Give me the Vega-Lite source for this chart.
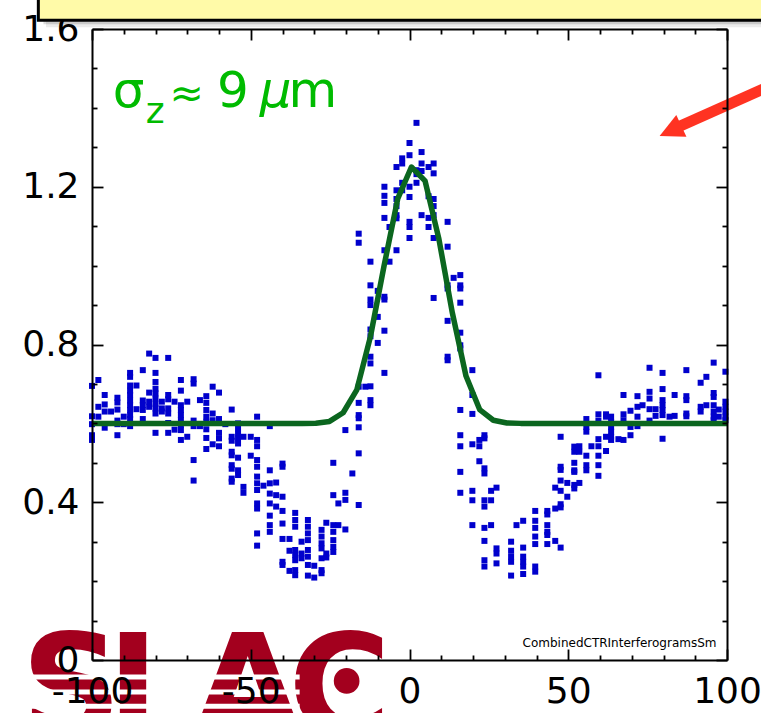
{
  "$schema": "https://vega.github.io/schema/vega-lite/v6.json",
  "width": 635,
  "height": 631,
  "autosize": "none",
  "padding": {"left": 92, "top": 29, "right": 34, "bottom": 53},
  "background": "white",
  "config": {
    "view": {"stroke": null},
    "axis": {"labelFont": "DejaVu Sans", "labelFontSize": 36, "labelColor": "black", "domainColor": "black", "domainWidth": 2, "tickColor": "black", "tickWidth": 1.8, "grid": false, "title": null, "labelOverlap": false, "labelFlush": false, "labelBound": false}
  },
  "datasets": {
    "pts": [
      {"x":-100,"y":0.695},{"x":-100,"y":0.618},{"x":-100,"y":0.598},{"x":-100,"y":0.570},{"x":-100,"y":0.558},
      {"x":-98,"y":0.710},{"x":-98,"y":0.642},{"x":-98,"y":0.617},
      {"x":-96,"y":0.672},{"x":-96,"y":0.648},{"x":-96,"y":0.630},{"x":-96,"y":0.589},
      {"x":-94,"y":0.630},
      {"x":-92,"y":0.665},{"x":-92,"y":0.653},{"x":-92,"y":0.635},{"x":-92,"y":0.607},{"x":-92,"y":0.598},{"x":-92,"y":0.570},
      {"x":-90,"y":0.617},{"x":-90,"y":0.598},
      {"x":-88,"y":0.728},{"x":-88,"y":0.718},{"x":-88,"y":0.696},{"x":-88,"y":0.683},{"x":-88,"y":0.672},{"x":-88,"y":0.658},{"x":-88,"y":0.646},{"x":-88,"y":0.634},{"x":-88,"y":0.621},{"x":-88,"y":0.611},{"x":-88,"y":0.593},
      {"x":-86,"y":0.696},{"x":-86,"y":0.636},
      {"x":-84,"y":0.735},{"x":-84,"y":0.658},{"x":-84,"y":0.646},{"x":-84,"y":0.634},{"x":-84,"y":0.611},
      {"x":-82,"y":0.777},{"x":-82,"y":0.678},{"x":-82,"y":0.655},{"x":-82,"y":0.642},
      {"x":-80,"y":0.766},{"x":-80,"y":0.728},{"x":-80,"y":0.705},{"x":-80,"y":0.688},{"x":-80,"y":0.676},{"x":-80,"y":0.663},{"x":-80,"y":0.650},{"x":-80,"y":0.638},{"x":-80,"y":0.625},{"x":-80,"y":0.576},
      {"x":-78,"y":0.655},{"x":-78,"y":0.638},{"x":-78,"y":0.630},
      {"x":-76,"y":0.766},{"x":-76,"y":0.672},{"x":-76,"y":0.661},{"x":-76,"y":0.638},{"x":-76,"y":0.625},{"x":-76,"y":0.601},{"x":-76,"y":0.576},
      {"x":-74,"y":0.655},{"x":-74,"y":0.584},
      {"x":-72,"y":0.710},{"x":-72,"y":0.683},{"x":-72,"y":0.646},{"x":-72,"y":0.634},{"x":-72,"y":0.621},{"x":-72,"y":0.608},{"x":-72,"y":0.596},{"x":-72,"y":0.583},{"x":-72,"y":0.558},
      {"x":-70,"y":0.655},{"x":-70,"y":0.566},
      {"x":-68,"y":0.712},{"x":-68,"y":0.701},{"x":-68,"y":0.607},{"x":-68,"y":0.593},{"x":-68,"y":0.507},{"x":-68,"y":0.455},
      {"x":-66,"y":0.659},{"x":-66,"y":0.593},
      {"x":-64,"y":0.669},{"x":-64,"y":0.652},{"x":-64,"y":0.634},{"x":-64,"y":0.617},{"x":-64,"y":0.604},{"x":-64,"y":0.585},{"x":-64,"y":0.563},{"x":-64,"y":0.535},
      {"x":-62,"y":0.693},{"x":-62,"y":0.625},{"x":-62,"y":0.608},{"x":-62,"y":0.547},
      {"x":-60,"y":0.678},{"x":-60,"y":0.611},{"x":-60,"y":0.576},{"x":-60,"y":0.562},{"x":-60,"y":0.542},
      {"x":-58,"y":0.598},
      {"x":-56,"y":0.635},{"x":-56,"y":0.566},{"x":-56,"y":0.556},{"x":-56,"y":0.528},{"x":-56,"y":0.519},{"x":-56,"y":0.494},{"x":-56,"y":0.485},{"x":-56,"y":0.460},{"x":-56,"y":0.452},
      {"x":-54,"y":0.600},{"x":-54,"y":0.587},{"x":-54,"y":0.574},{"x":-54,"y":0.562},{"x":-54,"y":0.549},{"x":-54,"y":0.513},{"x":-54,"y":0.481},{"x":-54,"y":0.469},
      {"x":-52.3,"y":0.566},{"x":-52.3,"y":0.439},{"x":-52.3,"y":0.424},
      {"x":-50,"y":0.566},{"x":-50,"y":0.518},
      {"x":-48,"y":0.617},{"x":-48,"y":0.558},{"x":-48,"y":0.542},{"x":-48,"y":0.507},{"x":-48,"y":0.490},{"x":-48,"y":0.465},{"x":-48,"y":0.448},{"x":-48,"y":0.431},{"x":-48,"y":0.397},{"x":-48,"y":0.384},{"x":-48,"y":0.321},{"x":-48,"y":0.290},
      {"x":-46,"y":0.442},
      {"x":-44,"y":0.593},{"x":-44,"y":0.481},{"x":-44,"y":0.448},{"x":-44,"y":0.422},{"x":-44,"y":0.397},{"x":-44,"y":0.366},{"x":-44,"y":0.342},{"x":-44,"y":0.325},
      {"x":-42,"y":0.450},{"x":-42,"y":0.418},{"x":-42,"y":0.389},
      {"x":-40,"y":0.498},{"x":-40,"y":0.490},{"x":-40,"y":0.414},{"x":-40,"y":0.378},{"x":-40,"y":0.346},{"x":-40,"y":0.307},{"x":-40,"y":0.249},{"x":-40,"y":0.241},
      {"x":-37.8,"y":0.307},{"x":-37.8,"y":0.277},{"x":-37.8,"y":0.226},
      {"x":-36,"y":0.373},{"x":-36,"y":0.355},{"x":-36,"y":0.338},{"x":-36,"y":0.279},{"x":-36,"y":0.266},{"x":-36,"y":0.253},{"x":-36,"y":0.228},{"x":-36,"y":0.215},
      {"x":-34,"y":0.300},{"x":-34,"y":0.270},{"x":-34,"y":0.258},
      {"x":-32,"y":0.355},{"x":-32,"y":0.338},{"x":-32,"y":0.321},{"x":-32,"y":0.304},{"x":-32,"y":0.279},{"x":-32,"y":0.262},{"x":-32,"y":0.241},{"x":-32,"y":0.214},
      {"x":-30,"y":0.239},{"x":-30,"y":0.209},
      {"x":-27.7,"y":0.330},{"x":-27.7,"y":0.313},{"x":-27.7,"y":0.296},{"x":-27.7,"y":0.283},{"x":-27.7,"y":0.258},{"x":-27.7,"y":0.228},{"x":-27.7,"y":0.220},
      {"x":-26.2,"y":0.348},{"x":-26.2,"y":0.270},{"x":-26.2,"y":0.260},
      {"x":-24,"y":0.500},{"x":-24,"y":0.418},{"x":-24,"y":0.342},{"x":-24,"y":0.325},{"x":-24,"y":0.304},{"x":-24,"y":0.287},{"x":-24,"y":0.274},
      {"x":-22.4,"y":0.397},{"x":-22.4,"y":0.342},
      {"x":-20.2,"y":0.583},{"x":-20.2,"y":0.424},{"x":-20.2,"y":0.406},{"x":-20.2,"y":0.331},
      {"x":-18,"y":0.473},
      {"x":-16,"y":1.081},{"x":-16,"y":1.058},{"x":-16,"y":0.693},{"x":-16,"y":0.652},{"x":-16,"y":0.621},{"x":-16,"y":0.613},{"x":-16,"y":0.590},{"x":-16,"y":0.524},{"x":-16,"y":0.393},
      {"x":-13.9,"y":0.693},
      {"x":-12.3,"y":1.010},{"x":-12.3,"y":0.950},{"x":-12.3,"y":0.914},{"x":-12.3,"y":0.900},{"x":-12.3,"y":0.838},{"x":-12.3,"y":0.821},{"x":-12.3,"y":0.769},{"x":-12.3,"y":0.752},{"x":-12.3,"y":0.694},{"x":-12.3,"y":0.659},{"x":-12.3,"y":0.646},
      {"x":-10,"y":0.936},{"x":-10,"y":0.870},{"x":-10,"y":0.804},
      {"x":-7.9,"y":1.200},{"x":-7.9,"y":1.177},{"x":-7.9,"y":1.159},{"x":-7.9,"y":1.121},{"x":-7.9,"y":1.039},{"x":-7.9,"y":0.921},{"x":-7.9,"y":0.914},{"x":-7.9,"y":0.835},{"x":-7.9,"y":0.728},
      {"x":-6.3,"y":1.098},{"x":-6.3,"y":1.010},
      {"x":-4.1,"y":1.250},{"x":-4.1,"y":1.191},{"x":-4.1,"y":1.169},{"x":-4.1,"y":1.151},{"x":-4.1,"y":1.128},{"x":-4.1,"y":1.120},{"x":-4.1,"y":1.039},
      {"x":-2.3,"y":1.272},{"x":-2.3,"y":1.259},{"x":-2.3,"y":1.210},{"x":-2.3,"y":1.191},
      {"x":0,"y":1.311},{"x":0,"y":1.280},{"x":0,"y":1.200},{"x":0,"y":1.174},{"x":0,"y":1.111},{"x":0,"y":1.098},{"x":0,"y":1.070},
      {"x":2.2,"y":1.362},{"x":2.2,"y":1.242},{"x":2.2,"y":1.232},{"x":2.2,"y":1.210},
      {"x":3.8,"y":1.288},{"x":3.8,"y":1.259},{"x":3.8,"y":1.240},{"x":3.8,"y":1.128},
      {"x":6,"y":1.250},{"x":6,"y":1.176},{"x":6,"y":1.121},{"x":6,"y":1.098},
      {"x":7.6,"y":1.259},{"x":7.6,"y":1.234},{"x":7.6,"y":1.169},{"x":7.6,"y":1.151},{"x":7.6,"y":1.128},{"x":7.6,"y":1.070},{"x":7.6,"y":0.918},
      {"x":12,"y":1.111},{"x":12,"y":1.048},{"x":12,"y":0.950},{"x":12,"y":0.942},{"x":12,"y":0.860},{"x":12,"y":0.769},{"x":12,"y":0.760},
      {"x":13.9,"y":0.969},
      {"x":16,"y":0.976},{"x":16,"y":0.950},{"x":16,"y":0.942},{"x":16,"y":0.906},{"x":16,"y":0.830},{"x":16,"y":0.798},{"x":16,"y":0.790},{"x":16,"y":0.634},{"x":16,"y":0.570},{"x":16,"y":0.542},{"x":16,"y":0.477},{"x":16,"y":0.424},
      {"x":19.8,"y":0.735},{"x":19.8,"y":0.672},{"x":19.8,"y":0.624},{"x":19.8,"y":0.547},{"x":19.8,"y":0.429},{"x":19.8,"y":0.405},{"x":19.8,"y":0.342},
      {"x":22,"y":0.558},{"x":22,"y":0.542},{"x":22,"y":0.504},
      {"x":23.6,"y":0.570},{"x":23.6,"y":0.562},{"x":23.6,"y":0.486},{"x":23.6,"y":0.473},{"x":23.6,"y":0.405},{"x":23.6,"y":0.389},{"x":23.6,"y":0.335},{"x":23.6,"y":0.302},{"x":23.6,"y":0.253},{"x":23.6,"y":0.237},
      {"x":25.7,"y":0.429},{"x":25.7,"y":0.405},{"x":25.7,"y":0.342},
      {"x":27.4,"y":0.437},{"x":27.4,"y":0.283},{"x":27.4,"y":0.270},{"x":27.4,"y":0.245},
      {"x":32,"y":0.300},{"x":32,"y":0.277},{"x":32,"y":0.262},{"x":32,"y":0.249},{"x":32,"y":0.214},
      {"x":33.7,"y":0.342},
      {"x":35.8,"y":0.353},{"x":35.8,"y":0.285},{"x":35.8,"y":0.262},{"x":35.8,"y":0.249},{"x":35.8,"y":0.237},{"x":35.8,"y":0.218},
      {"x":39.6,"y":0.378},{"x":39.6,"y":0.353},{"x":39.6,"y":0.335},{"x":39.6,"y":0.313},{"x":39.6,"y":0.294},{"x":39.6,"y":0.237},{"x":39.6,"y":0.224},
      {"x":43.4,"y":0.378},{"x":43.4,"y":0.369},{"x":43.4,"y":0.342},{"x":43.4,"y":0.325},{"x":43.4,"y":0.317},{"x":43.4,"y":0.294},
      {"x":45.9,"y":0.437},{"x":45.9,"y":0.384},{"x":45.9,"y":0.302},
      {"x":47.6,"y":0.566},{"x":47.6,"y":0.490},{"x":47.6,"y":0.482},{"x":47.6,"y":0.455},{"x":47.6,"y":0.429},{"x":47.6,"y":0.395},{"x":47.6,"y":0.387},{"x":47.6,"y":0.285},
      {"x":49.7,"y":0.449},{"x":49.7,"y":0.414},
      {"x":51.9,"y":0.541},{"x":51.9,"y":0.528},{"x":51.9,"y":0.500},{"x":51.9,"y":0.481},{"x":51.9,"y":0.477},{"x":51.9,"y":0.444},{"x":51.9,"y":0.435},
      {"x":53.5,"y":0.542},{"x":53.5,"y":0.528},{"x":53.5,"y":0.449},
      {"x":55.7,"y":0.611},{"x":55.7,"y":0.591},{"x":55.7,"y":0.579},{"x":55.7,"y":0.518},{"x":55.7,"y":0.494},{"x":55.7,"y":0.481},
      {"x":57.3,"y":0.542},
      {"x":59.5,"y":0.722},{"x":59.5,"y":0.623},{"x":59.5,"y":0.607},{"x":59.5,"y":0.560},{"x":59.5,"y":0.542},{"x":59.5,"y":0.518},{"x":59.5,"y":0.494},{"x":59.5,"y":0.467},
      {"x":61.9,"y":0.623},{"x":61.9,"y":0.617},{"x":61.9,"y":0.566},{"x":61.9,"y":0.530},
      {"x":63.5,"y":0.617},{"x":63.5,"y":0.604},{"x":63.5,"y":0.591},{"x":63.5,"y":0.579},{"x":63.5,"y":0.566},{"x":63.5,"y":0.558},
      {"x":65.8,"y":0.560},
      {"x":67.4,"y":0.672},{"x":67.4,"y":0.623},{"x":67.4,"y":0.608},{"x":67.4,"y":0.558},
      {"x":69.6,"y":0.632},{"x":69.6,"y":0.591},{"x":69.6,"y":0.570},
      {"x":71.8,"y":0.669},{"x":71.8,"y":0.642},{"x":71.8,"y":0.617},{"x":71.8,"y":0.593},
      {"x":73.4,"y":0.646},
      {"x":75.6,"y":0.741},{"x":75.6,"y":0.680},{"x":75.6,"y":0.663},{"x":75.6,"y":0.636},{"x":75.6,"y":0.607},
      {"x":77.5,"y":0.636},{"x":77.5,"y":0.619},
      {"x":79.7,"y":0.728},{"x":79.7,"y":0.687},{"x":79.7,"y":0.659},{"x":79.7,"y":0.646},{"x":79.7,"y":0.634},{"x":79.7,"y":0.621},{"x":79.7,"y":0.561},
      {"x":81.9,"y":0.617},
      {"x":83.5,"y":0.672},{"x":83.5,"y":0.619},
      {"x":87.2,"y":0.735},{"x":87.2,"y":0.669},{"x":87.2,"y":0.659},{"x":87.2,"y":0.625},{"x":87.2,"y":0.618},
      {"x":91.7,"y":0.703},{"x":91.7,"y":0.642},{"x":91.7,"y":0.630},
      {"x":93.5,"y":0.718},{"x":93.5,"y":0.646},
      {"x":95.8,"y":0.754},{"x":95.8,"y":0.677},{"x":95.8,"y":0.667},{"x":95.8,"y":0.646},{"x":95.8,"y":0.630},{"x":95.8,"y":0.617},{"x":95.8,"y":0.608},
      {"x":97.4,"y":0.635},{"x":97.4,"y":0.617},
      {"x":99.5,"y":0.731},{"x":99.5,"y":0.655},{"x":99.5,"y":0.642},{"x":99.5,"y":0.630},{"x":99.5,"y":0.617},{"x":99.5,"y":0.608}
    ],
    "fit": [
      {"x":-100,"y":0.6},{"x":-33.8,"y":0.6},{"x":-29.5,"y":0.6005},{"x":-25.2,"y":0.605},{"x":-20.9,"y":0.627},{"x":-16.6,"y":0.685},{"x":-12.3,"y":0.82},{"x":-8.0,"y":1.0},{"x":-3.7,"y":1.17},{"x":0.6,"y":1.25},{"x":4.9,"y":1.215},{"x":9.2,"y":1.07},{"x":13.5,"y":0.88},{"x":17.8,"y":0.72},{"x":22.1,"y":0.635},{"x":26.4,"y":0.608},{"x":30.7,"y":0.601},{"x":35,"y":0.6},{"x":100,"y":0.6}
    ],
    "one": [{}]
  },
  "resolve": {"axis": {"x": "independent", "y": "independent"}},
  "layer": [
    {"data": {"name": "one"},
     "mark": {"type": "text", "font": "DejaVu Sans", "fontWeight": "bold", "fontSize": 140, "color": "#a3001e", "align": "center", "baseline": "alphabetic"},
     "encoding": {"x": {"datum": -106.5, "type": "quantitative", "scale": {"domain": [-100, 100], "nice": false, "zero": false}, "axis": null}, "y": {"datum": -0.19, "type": "quantitative", "scale": {"domain": [0, 1.6], "nice": false, "zero": false}, "axis": null}, "text": {"value": "S"}}},
    {"data": {"name": "one"},
     "mark": {"type": "text", "font": "DejaVu Sans", "fontWeight": "bold", "fontSize": 140, "color": "#a3001e", "align": "left", "baseline": "alphabetic"},
     "encoding": {"x": {"datum": -95.3, "type": "quantitative", "axis": null}, "y": {"datum": -0.19, "type": "quantitative", "axis": null}, "text": {"value": "L"}}},
    {"data": {"name": "one"},
     "mark": {"type": "text", "font": "DejaVu Sans", "fontWeight": "bold", "fontSize": 140, "color": "#a3001e", "align": "center", "baseline": "alphabetic"},
     "encoding": {"x": {"datum": -51.0, "type": "quantitative", "axis": null}, "y": {"datum": -0.19, "type": "quantitative", "axis": null}, "text": {"value": "A"}}},
    {"data": {"name": "one"},
     "mark": {"type": "text", "font": "DejaVu Sans", "fontWeight": "bold", "fontSize": 140, "color": "#a3001e", "align": "center", "baseline": "alphabetic"},
     "encoding": {"x": {"datum": -22.0, "type": "quantitative", "axis": null}, "y": {"datum": -0.19, "type": "quantitative", "axis": null}, "text": {"value": "C"}}},
    {"data": {"name": "one"},
     "mark": {"type": "point", "shape": "circle", "filled": true, "size": 660, "opacity": 1, "color": "#a3001e"},
     "encoding": {"x": {"datum": -19.8, "type": "quantitative", "axis": null}, "y": {"datum": -0.053, "type": "quantitative", "axis": null}}},
    {"data": {"name": "one"},
     "mark": {"type": "rule", "color": "white", "strokeWidth": 5},
     "encoding": {"x": {"datum": -120, "type": "quantitative", "axis": null}, "x2": {"datum": -34.6}, "y": {"datum": -0.043, "type": "quantitative", "axis": null}}},
    {"data": {"name": "one"},
     "mark": {"type": "rule", "color": "white", "strokeWidth": 5},
     "encoding": {"x": {"datum": -120, "type": "quantitative", "axis": null}, "x2": {"datum": -34.6}, "y": {"datum": -0.081, "type": "quantitative", "axis": null}}},
    {"data": {"name": "one"},
     "mark": {"type": "rule", "color": "white", "strokeWidth": 5},
     "encoding": {"x": {"datum": -120, "type": "quantitative", "axis": null}, "x2": {"datum": -34.6}, "y": {"datum": -0.117, "type": "quantitative", "axis": null}}},
    {"data": {"name": "pts"},
     "mark": {"type": "point", "shape": "square", "filled": true, "size": 36, "opacity": 1, "color": "#0000cc", "strokeWidth": 0},
     "encoding": {
       "x": {"field": "x", "type": "quantitative", "axis": {"orient": "bottom", "zindex": 1, "values": [-100,-50,0,50,100], "ticks": false, "domain": false, "labelExpr": "'' + datum.value", "labelPadding": 14}},
       "y": {"field": "y", "type": "quantitative", "axis": {"orient": "left", "zindex": 1, "values": [0,0.4,0.8,1.2], "ticks": false, "domain": false, "labelExpr": "'' + datum.value", "labelPadding": 13}}
     }},
    {"data": {"name": "fit"},
     "mark": {"type": "line", "color": "#0b661f", "strokeWidth": 5.5, "strokeJoin": "round"},
     "encoding": {
       "x": {"field": "x", "type": "quantitative", "axis": {"orient": "top", "offset": -631, "zindex": 1, "labels": false, "values": [-100,-90,-80,-70,-60,-50,-40,-30,-20,-10,0,10,20,30,40,50,60,70,80,90,100], "tickSize": {"condition": {"test": "datum.value % 50 === 0", "value": 11}, "value": 5}}},
       "y": {"field": "y", "type": "quantitative", "axis": {"orient": "right", "offset": -635, "zindex": 1, "labels": false, "values": [0,0.1,0.2,0.3,0.4,0.5,0.6,0.7,0.8,0.9,1,1.1,1.2,1.3,1.4,1.5,1.6], "tickSize": {"condition": {"test": "indexof([0,0.4,0.8,1.2,1.6], datum.value) >= 0", "value": 11}, "value": 5}}}
     }},
    {"data": {"name": "one"},
     "mark": {"type": "text", "font": "DejaVu Sans", "fontSize": 12, "color": "black", "align": "right", "baseline": "alphabetic"},
     "encoding": {"x": {"datum": 96.7, "type": "quantitative", "axis": {"orient": "bottom", "offset": -631, "zindex": 1, "labels": false, "values": [-100,-90,-80,-70,-60,-50,-40,-30,-20,-10,0,10,20,30,40,50,60,70,80,90,100], "tickSize": {"condition": {"test": "datum.value % 50 === 0", "value": 11}, "value": 5}}},
                  "y": {"datum": 0.033, "type": "quantitative", "axis": {"orient": "left", "offset": -635, "zindex": 1, "labels": false, "values": [0,0.1,0.2,0.3,0.4,0.5,0.6,0.7,0.8,0.9,1,1.1,1.2,1.3,1.4,1.5,1.6], "tickSize": {"condition": {"test": "indexof([0,0.4,0.8,1.2,1.6], datum.value) >= 0", "value": 11}, "value": 5}}},
                  "text": {"value": "CombinedCTRInterferogramsSm"}}},
    {"data": {"name": "one"},
     "mark": {"type": "text", "font": "DejaVu Sans", "fontSize": 50, "color": "#00bb00", "align": "left", "baseline": "alphabetic"},
     "encoding": {"x": {"datum": -93.5, "type": "quantitative", "axis": null},
                  "y": {"datum": 1.402, "type": "quantitative", "axis": {"orient": "left", "zindex": 0, "values": [1.6], "ticks": false, "domain": false, "labelExpr": "'1.6'", "labelPadding": 13}},
                  "text": {"value": "σ"}}},
    {"data": {"name": "one"},
     "mark": {"type": "text", "font": "DejaVu Sans", "fontSize": 36, "color": "#00bb00", "align": "left", "baseline": "alphabetic"},
     "encoding": {"x": {"datum": -83.1, "type": "quantitative", "axis": null}, "y": {"datum": 1.361, "type": "quantitative", "axis": null}, "text": {"value": "z"}}},
    {"data": {"name": "one"},
     "mark": {"type": "text", "font": "DejaVu Sans", "fontSize": 41, "color": "#00bb00", "align": "left", "baseline": "alphabetic"},
     "encoding": {"x": {"datum": -75.6, "type": "quantitative", "axis": null}, "y": {"datum": 1.402, "type": "quantitative", "axis": null}, "text": {"value": "≈"}}},
    {"data": {"name": "one"},
     "mark": {"type": "text", "font": "DejaVu Sans", "fontSize": 50, "color": "#00bb00", "align": "left", "baseline": "alphabetic"},
     "encoding": {"x": {"datum": -60.6, "type": "quantitative", "axis": null}, "y": {"datum": 1.402, "type": "quantitative", "axis": null}, "text": {"value": "9"}}},
    {"data": {"name": "one"},
     "mark": {"type": "text", "font": "DejaVu Sans", "fontSize": 50, "fontStyle": "italic", "color": "#00bb00", "align": "left", "baseline": "alphabetic"},
     "encoding": {"x": {"datum": -47.2, "type": "quantitative", "axis": null}, "y": {"datum": 1.402, "type": "quantitative", "axis": null}, "text": {"value": "μ"}}},
    {"data": {"name": "one"},
     "mark": {"type": "text", "font": "DejaVu Sans", "fontSize": 50, "color": "#00bb00", "align": "left", "baseline": "alphabetic"},
     "encoding": {"x": {"datum": -38.1, "type": "quantitative", "axis": null}, "y": {"datum": 1.402, "type": "quantitative", "axis": null}, "text": {"value": "m"}}},
    {"data": {"name": "one"},
     "mark": {"type": "rule", "color": "#ff3322", "strokeWidth": 11, "strokeCap": "butt"},
     "encoding": {"x": {"datum": 122.8, "type": "quantitative", "axis": null}, "x2": {"datum": 84.4}, "y": {"datum": 1.489, "type": "quantitative", "axis": null}, "y2": {"datum": 1.351}}},
    {"data": {"name": "one"},
     "mark": {"type": "point", "shape": "M-1,0L1,-1L1,1Z", "filled": true, "size": 576, "angle": 335, "opacity": 1, "color": "#ff3322", "strokeWidth": 0},
     "encoding": {"x": {"datum": 82.2, "type": "quantitative", "axis": null}, "y": {"datum": 1.3416, "type": "quantitative", "axis": null}}},
    {"data": {"name": "one"},
     "mark": {"type": "rect", "color": "black", "opacity": 0.08},
     "encoding": {"x": {"datum": -114.5, "type": "quantitative", "axis": null}, "x2": {"datum": 130}, "y": {"datum": 1.72, "type": "quantitative", "axis": null}, "y2": {"datum": 1.6045}}},
    {"data": {"name": "one"},
     "mark": {"type": "rect", "color": "black", "opacity": 0.14},
     "encoding": {"x": {"datum": -115.3, "type": "quantitative", "axis": null}, "x2": {"datum": 130}, "y": {"datum": 1.72, "type": "quantitative", "axis": null}, "y2": {"datum": 1.6122}}},
    {"data": {"name": "one"},
     "mark": {"type": "rect", "fill": "#fffaa8", "stroke": "black", "strokeWidth": 3, "opacity": 1},
     "encoding": {"x": {"datum": -116.9, "type": "quantitative", "axis": null}, "x2": {"datum": 130}, "y": {"datum": 1.72, "type": "quantitative", "axis": null}, "y2": {"datum": 1.6223}}}
  ]
}
